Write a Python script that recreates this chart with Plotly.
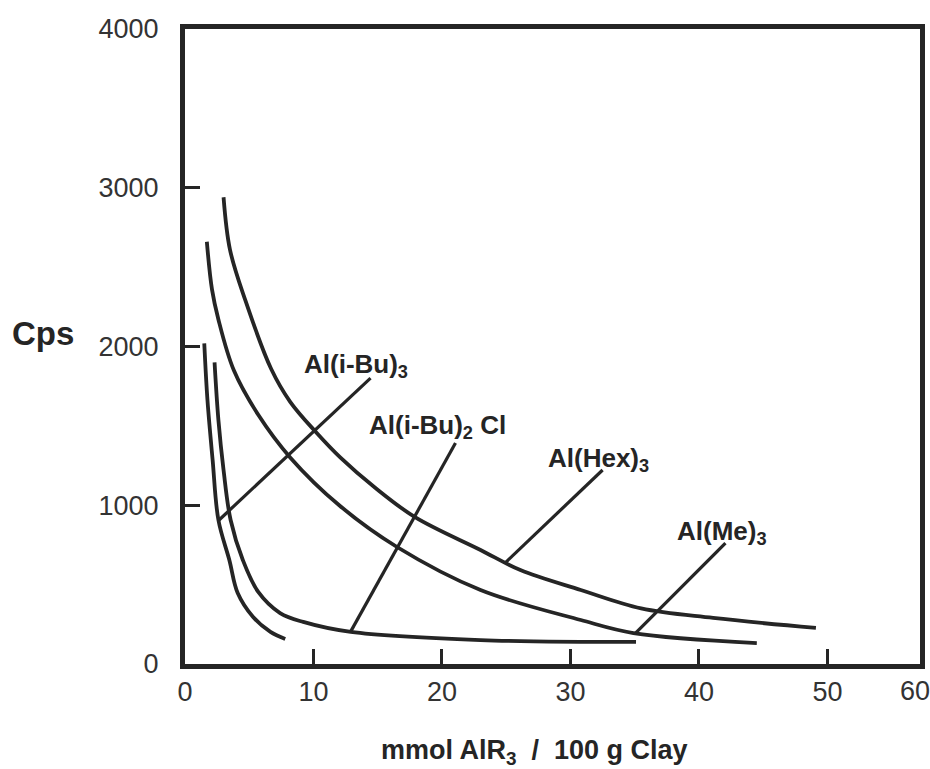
import numpy as np
import plotly.graph_objects as go

# ---------------- data ----------------
hex_x = [3.0, 3.5, 4.7, 6.7, 8.2, 10.2, 12.1, 14.8, 17.9, 23.0, 26.1, 30.8, 35.5, 41.1, 49.1]
hex_y = [2940, 2610, 2290, 1860, 1650, 1460, 1300, 1110, 925, 718, 592, 466, 350, 290, 227]

me_x = [1.7, 2.1, 2.6, 3.8, 5.7, 8.2, 12.0, 16.5, 23.0, 30.8, 34.9, 44.5]
me_y = [2660, 2360, 2170, 1850, 1570, 1300, 1000, 737, 466, 277, 195, 132]

ibu3_x = [1.5, 1.75, 2.15, 2.6, 3.45, 4.1, 5.3, 6.65, 7.8]
ibu3_y = [2020, 1660, 1285, 907, 655, 447, 296, 202, 157]

ibu2cl_x = [2.3, 2.6, 3.0, 3.55, 4.5, 5.7, 7.4, 9.2, 12.9, 23.0, 35.1]
ibu2cl_y = [1900, 1537, 1222, 907, 655, 454, 321, 265, 202, 151, 139]

series_names = ["Al(Hex)<sub>3</sub>", "Al(Me)<sub>3</sub>",
                "Al(i-Bu)<sub>3</sub>", "Al(i-Bu)<sub>2</sub> Cl"]

x_tickvals = [0, 10, 20, 30, 40, 50]
x_ticktext = ["0", "10", "20", "30", "40", "50"]
x_end_label = "60"
y_tickvals = [0, 1000, 2000, 3000, 4000]
y_ticktext = ["0", "1000", "2000", "3000", "4000"]

x_title = "mmol AlR<sub>3</sub>  /  100 g Clay"
y_title = "Cps"

# ---------------- figure ----------------
INK = "#252525"
FONT = "Liberation Sans, Arial, Helvetica, sans-serif"

series = [(hex_x, hex_y), (me_x, me_y), (ibu3_x, ibu3_y), (ibu2cl_x, ibu2cl_y)]

fig = go.Figure()
for (xs, ys), name in zip(series, series_names):
    fig.add_trace(go.Scatter(
        x=xs, y=ys, mode="lines", name=name,
        line=dict(color=INK, width=3.8, shape="spline", smoothing=1.0),
        showlegend=False, hoverinfo="skip"))

# label placement: (text-left x, text-middle y, leader start x, leader start y, leader end x on curve)
label_layout = [
    (28.1, 1290, 32.5, 1222, 24.94),   # Al(Hex)3
    (38.1, 830, 42.06, 762, 35.06),    # Al(Me)3
    (9.1, 1880, 14.44, 1801, 2.61),    # Al(i-Bu)3
    (14.2, 1495, 21.05, 1392, 12.88),  # Al(i-Bu)2 Cl
]

shapes = []
annotations = []
for (xs, ys), name, (tx, ty, lx0, ly0, lx1) in zip(series, series_names, label_layout):
    order = np.argsort(xs)
    ly1 = float(np.interp(lx1, np.array(xs)[order], np.array(ys)[order]))
    shapes.append(dict(type="line", xref="x", yref="y", x0=lx0, y0=ly0, x1=lx1, y1=ly1,
                       line=dict(color=INK, width=3.2)))
    annotations.append(dict(x=tx, y=ty, xref="x", yref="y", text="<b>%s</b>" % name,
                            showarrow=False, xanchor="left", yanchor="middle",
                            font=dict(family=FONT, size=26, color=INK)))

annotations.append(dict(x=-0.193, y=0.521, xref="paper", yref="paper", text="<b>%s</b>" % y_title,
                        showarrow=False, xanchor="center", yanchor="middle",
                        font=dict(family=FONT, size=33, color=INK)))
annotations.append(dict(x=0.476, y=-0.138, xref="paper", yref="paper", text="<b>%s</b>" % x_title,
                        showarrow=False, xanchor="center", yanchor="middle",
                        font=dict(family=FONT, size=27, color=INK)))
annotations.append(dict(x=1.0, y=0, xref="paper", yref="paper", text=x_end_label,
                        showarrow=False, xanchor="center", yanchor="top", xshift=-5, yshift=-10,
                        font=dict(family=FONT, size=27, color="#333333")))

axis_common = dict(showgrid=False, zeroline=False, showline=True, mirror=True, automargin=False,
                   linecolor=INK, linewidth=5, ticks="inside", ticklen=15, tickwidth=3,
                   tickcolor=INK, tickfont=dict(family=FONT, size=27, color="#333333"))

fig.update_layout(
    width=930, height=769,
    margin=dict(l=185, r=10, t=29, b=105),
    paper_bgcolor="white", plot_bgcolor="white",
    xaxis=dict(range=[0, 57.2], tickmode="array", tickvals=x_tickvals, ticktext=x_ticktext,
               ticklabelstandoff=0, **axis_common),
    yaxis=dict(range=[0, 4000], tickmode="array", tickvals=y_tickvals, ticktext=y_ticktext,
               ticklabelstandoff=16, **axis_common),
    shapes=shapes, annotations=annotations,
)

fig.write_html("out.html")
